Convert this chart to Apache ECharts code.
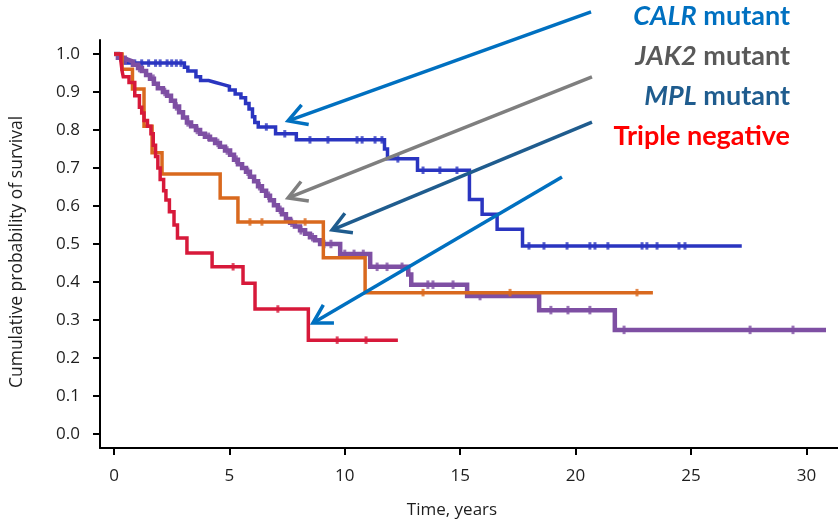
<!DOCTYPE html>
<html>
<head>
<meta charset="utf-8">
<script src="https://cdn.jsdelivr.net/npm/echarts@6/dist/echarts.min.js"></script>
<style>
  html, body { margin: 0; padding: 0; background: #fff; }
  #chart { width: 838px; height: 522px; }
</style>
</head>
<body>
<div id="chart"></div>
<script>
// Kaplan–Meier curves: each time (years) is where survival drops to the paired value.
const calrTime = [0, 0.3, 0.45, 3.05, 3.2, 3.55, 3.75, 4.1, 4.4, 4.7, 5.0, 5.25, 5.5, 5.7, 5.85, 6.0, 6.1, 6.25, 7.0, 7.9, 11.72, 11.85, 13.15, 15.4, 15.95, 16.6, 17.7, 27.2];
const calrSurv = [1.0, 0.985, 0.976, 0.965, 0.955, 0.94, 0.93, 0.925, 0.92, 0.915, 0.905, 0.895, 0.885, 0.87, 0.855, 0.835, 0.82, 0.808, 0.79, 0.774, 0.75, 0.724, 0.694, 0.617, 0.578, 0.539, 0.495, 0.495];
const calrCensor = [0.9, 1.2, 1.5, 1.8, 2.0, 2.3, 2.5, 2.7, 2.9, 6.6, 7.4, 8.49, 9.27, 10.53, 10.75, 11.31, 11.61, 12.3, 13.39, 14.12, 14.86, 17.98, 18.63, 19.63, 20.62, 20.84, 21.4, 22.88, 23.09, 23.53, 24.48, 24.74];

const jak2Time = [0, 0.17, 0.4, 0.6, 0.82, 1.04, 1.21, 1.39, 1.56, 1.73, 1.9, 2.12, 2.3, 2.47, 2.64, 2.82, 2.99, 3.16, 3.34, 3.55, 3.73, 3.94, 4.16, 4.38, 4.59, 4.81, 5.03, 5.2, 5.37, 5.55, 5.72, 5.89, 6.07, 6.24, 6.41, 6.59, 6.76, 6.93, 7.1, 7.28, 7.45, 7.63, 7.84, 8.06, 8.28, 8.49, 8.71, 8.93, 9.8, 11.1, 12.75, 12.88, 15.3, 18.42, 21.7, 30.85];
const jak2Surv = [1.0, 0.99, 0.985, 0.98, 0.972, 0.963, 0.955, 0.945, 0.935, 0.922, 0.91, 0.9, 0.89, 0.877, 0.862, 0.847, 0.833, 0.82, 0.81, 0.8, 0.79, 0.782, 0.775, 0.766, 0.756, 0.746, 0.735, 0.722, 0.71, 0.7, 0.69, 0.677, 0.665, 0.652, 0.64, 0.627, 0.615, 0.602, 0.59, 0.578, 0.566, 0.556, 0.546, 0.536, 0.527, 0.518, 0.51, 0.5, 0.474, 0.44, 0.42, 0.393, 0.363, 0.326, 0.274, 0.274];
const jak2Censor = [0.5, 1.1, 1.7, 2.2, 2.7, 3.2, 3.6, 4.1, 4.5, 4.9, 5.3, 5.8, 6.3, 6.7, 7.2, 7.7, 8.1, 8.6, 9.1, 9.4, 10.0, 10.4, 10.8, 11.4, 11.83, 12.48, 13.6, 13.82, 14.69, 15.86, 18.93, 19.67, 20.62, 22.1, 27.56, 29.42];

const mplTime = [0, 0.35, 0.8, 1.3, 1.65, 2.08, 4.6, 5.37, 9.07, 10.88, 23.35];
const mplSurv = [1.0, 0.96, 0.908, 0.81, 0.74, 0.684, 0.621, 0.558, 0.464, 0.372, 0.372];
const mplCensor = [5.89, 6.41, 8.28, 13.39, 17.16, 22.66];

const tripleTime = [0, 0.3, 0.35, 0.4, 0.65, 0.9, 1.1, 1.2, 1.3, 1.45, 1.6, 1.7, 1.8, 1.9, 2.0, 2.15, 2.25, 2.4, 2.6, 2.75, 3.16, 4.25, 5.59, 6.11, 8.42, 12.3];
const tripleSurv = [1.0, 0.98, 0.955, 0.94, 0.925, 0.89, 0.86, 0.845, 0.825, 0.81, 0.79, 0.76, 0.73, 0.7, 0.67, 0.64, 0.616, 0.585, 0.55, 0.516, 0.476, 0.44, 0.397, 0.329, 0.247, 0.247];
const tripleCensor = [5.16, 7.1, 9.67, 10.92];

const xTicks = [0, 5, 10, 15, 20, 25, 30];
const yTicks = [0, 0.1, 0.2, 0.3, 0.4, 0.5, 0.6, 0.7, 0.8, 0.9, 1.0];

const groups = [
  { name: 'CALR mutant', time: calrTime, surv: calrSurv, censor: calrCensor, color: '#2a35c0', width: 3.5 },
  { name: 'JAK2 mutant', time: jak2Time, surv: jak2Surv, censor: jak2Censor, color: '#7e4fa3', width: 4.5 },
  { name: 'MPL mutant', time: mplTime, surv: mplSurv, censor: mplCensor, color: '#d9691e', width: 3.5 },
  { name: 'Triple negative', time: tripleTime, surv: tripleSurv, censor: tripleCensor, color: '#d7193a', width: 3.5 }
];

function survivalAt(times, survs, t) {
  let s = survs[0];
  for (let i = 0; i < times.length; i++) {
    if (times[i] <= t) s = survs[i]; else break;
  }
  return s;
}

const series = [];
groups.forEach(function (g, i) {
  series.push({
    name: g.name,
    type: 'line',
    step: 'end',
    showSymbol: false,
    symbol: 'none',
    z: 2 + i,
    data: g.time.map(function (t, k) { return [t, g.surv[k]]; }),
    lineStyle: { color: g.color, width: g.width, cap: 'butt', join: 'miter' }
  });
  series.push({
    name: g.name + ' censored',
    type: 'scatter',
    symbol: 'rect',
    symbolSize: [3, g.width + 4],
    z: 2 + i,
    itemStyle: { color: g.color },
    data: g.censor.map(function (t) { return [t, survivalAt(g.time, g.surv, t)]; })
  });
});

const TICK_FONT = '"Open Sans", sans-serif';
const chart = echarts.init(document.getElementById('chart'), null, { renderer: 'canvas' });

chart.setOption({
  animation: false,
  backgroundColor: '#ffffff',
  grid: { left: 100, right: 0, top: 40, bottom: 74, containLabel: false },
  xAxis: {
    type: 'value',
    min: -0.607,
    max: 31.37,
    splitLine: { show: false },
    axisLine: { show: true, onZero: false, lineStyle: { color: '#000', width: 2 } },
    axisTick: { show: true, customValues: xTicks, length: 7, lineStyle: { color: '#000', width: 2 } },
    axisLabel: { customValues: xTicks, margin: 20, color: '#1e1e1e', fontFamily: TICK_FONT, fontSize: 17 }
  },
  yAxis: {
    type: 'value',
    min: -0.0368,
    max: 1.0368,
    splitLine: { show: false },
    axisLine: { show: true, onZero: false, lineStyle: { color: '#000', width: 2 } },
    axisTick: { show: true, customValues: yTicks, length: 7, lineStyle: { color: '#000', width: 2 } },
    axisLabel: {
      customValues: yTicks, margin: 20, color: '#1e1e1e', fontFamily: TICK_FONT, fontSize: 17,
      formatter: function (v) { return Number(v).toFixed(1); }
    }
  },
  series: series
});

// Pointer arrows, anchored in (years, survival) space
const arrows = [
  { from: [20.67, 1.111], to: [7.54, 0.824], color: '#0070c0' },
  { from: [20.71, 0.940], to: [7.54, 0.621], color: '#7f7f7f' },
  { from: [20.71, 0.821], to: [9.45, 0.537], color: '#1f5c8e' },
  { from: [19.41, 0.676], to: [8.62, 0.292], color: '#0070c0' }
];

function arrowElements(a) {
  const p0 = chart.convertToPixel({ gridIndex: 0 }, a.from);
  const p1 = chart.convertToPixel({ gridIndex: 0 }, a.to);
  const dx = p0[0] - p1[0], dy = p0[1] - p1[1];
  const len = Math.hypot(dx, dy);
  const ux = dx / len, uy = dy / len;
  const ang = 30 * Math.PI / 180, L = 21;
  function wing(sign) {
    const c = Math.cos(sign * ang), s = Math.sin(sign * ang);
    return [p1[0] + L * (ux * c - uy * s), p1[1] + L * (ux * s + uy * c)];
  }
  return [
    { type: 'line', z: 50, shape: { x1: p0[0], y1: p0[1], x2: p1[0] + ux * 1.5, y2: p1[1] + uy * 1.5 },
      style: { stroke: a.color, lineWidth: 3.5, lineCap: 'butt' } },
    { type: 'polyline', z: 50, shape: { points: [wing(1), p1, wing(-1)] },
      style: { stroke: a.color, lineWidth: 3.5, fill: null, lineJoin: 'miter', lineCap: 'butt' } }
  ];
}

const labelFont = 'bold 27px Lato, "Open Sans", sans-serif';
const italicFont = 'italic bold 27px Lato, "Open Sans", sans-serif';
function legendText(y, gene, rest, color) {
  return {
    type: 'text', z: 60, x: 790, y: y,
    style: {
      text: (gene ? '{g|' + gene + '} ' : '') + '{m|' + rest + '}',
      align: 'right', verticalAlign: 'middle',
      font: labelFont, fill: color,
      rich: {
        g: { font: italicFont, fill: color },
        m: { font: labelFont, fill: color }
      }
    }
  };
}

let elements = [];
arrows.forEach(function (a) { elements = elements.concat(arrowElements(a)); });
elements.push(legendText(16, 'CALR', 'mutant', '#0070c0'));
elements.push(legendText(56, 'JAK2', 'mutant', '#595959'));
elements.push(legendText(96, 'MPL', 'mutant', '#1f5c8e'));
elements.push(legendText(136, '', 'Triple negative', '#ff0000'));
elements.push({
  type: 'text', z: 60, x: 17, y: 252, rotation: Math.PI / 2,
  style: { text: 'Cumulative probability of survival', align: 'center', verticalAlign: 'middle',
           font: '17.5px "Open Sans", sans-serif', fill: '#1e1e1e' }
});
elements.push({
  type: 'text', z: 60, x: 452, y: 510,
  style: { text: 'Time, years', align: 'center', verticalAlign: 'middle',
           font: '17px "Open Sans", sans-serif', fill: '#1e1e1e' }
});

chart.setOption({ graphic: { elements: elements } });
</script>
</body>
</html>
